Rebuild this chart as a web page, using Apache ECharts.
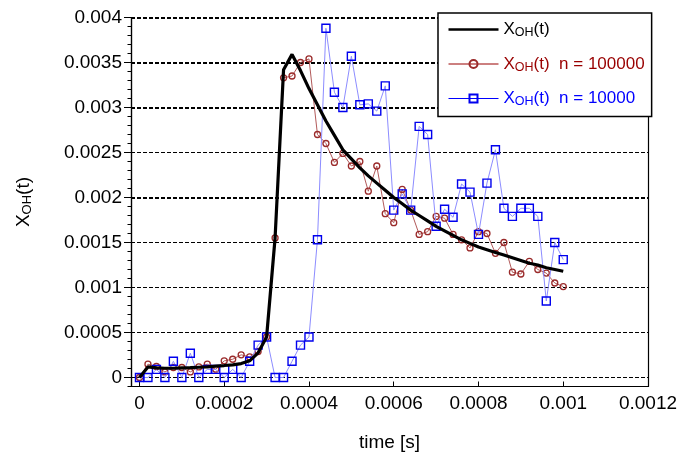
<!DOCTYPE html>
<html>
<head>
<meta charset="utf-8">
<script src="https://cdn.jsdelivr.net/npm/echarts@6/dist/echarts.min.js"></script>
<style>
  html, body { margin: 0; padding: 0; background: #fff; }
  #chart { width: 680px; height: 454px; }
</style>
</head>
<body>
<div id="chart"></div>
<script>
// Sampling times [s]
const times = [
  0, 0.00002, 0.00004, 0.00006, 0.00008, 0.0001, 0.00012, 0.00014, 0.00016, 0.00018,
  0.0002, 0.00022, 0.00024, 0.00026, 0.00028, 0.0003, 0.00032, 0.00034, 0.00036, 0.00038,
  0.0004, 0.00042, 0.00044, 0.00046, 0.00048, 0.0005, 0.00052, 0.00054, 0.00056, 0.00058,
  0.0006, 0.00062, 0.00064, 0.00066, 0.00068, 0.0007, 0.00072, 0.00074, 0.00076, 0.00078,
  0.0008, 0.00082, 0.00084, 0.00086, 0.00088, 0.0009, 0.00092, 0.00094, 0.00096, 0.00098,
  0.001
];

// Reference solution X_OH(t)
const exactValues = [
  0, 0.000118, 0.000107, 0.000103, 0.000103, 0.000107, 0.00011, 0.000114, 0.000118, 0.000126,
  0.000133, 0.000141, 0.000155, 0.000185, 0.000274, 0.00045, 0.00155, 0.00342, 0.00359, 0.00341,
  0.00321, 0.00303, 0.00285, 0.00269, 0.00253, 0.00243, 0.00233, 0.00224, 0.00216, 0.00208,
  0.002, 0.00193, 0.00186, 0.0018, 0.00174, 0.00168, 0.00163, 0.00158, 0.00153, 0.00149,
  0.00145, 0.00142, 0.00139, 0.00136, 0.00133, 0.0013, 0.00127, 0.00125, 0.00122, 0.0012,
  0.00118
];

// Stochastic estimate, n = 100000
const n100000Values = [
  0, 0.000148, 0.000122, 0.000062, 0.000111, 0.000111, 0.000062, 0.000118, 0.000148, 0.000092,
  0.000185, 0.000203, 0.000252, 0.000229, 0.000289, 0.00045, 0.00155, 0.00333, 0.00335, 0.0035,
  0.00354, 0.0027, 0.0026, 0.00239, 0.00249, 0.00235, 0.0024, 0.00207, 0.00235, 0.00182,
  0.00172, 0.00209, 0.00186, 0.00159, 0.00162, 0.00179, 0.00177, 0.00159, 0.00153, 0.00144,
  0.00162, 0.0016, 0.00138, 0.0015, 0.00117, 0.00115, 0.00129, 0.0012, 0.00116, 0.00105,
  0.00101
];

// Stochastic estimate, n = 10000
const n10000Values = [
  0, 0, 0.00009, 0, 0.00018, 0, 0.00027, 0, 0.00009, 0.00009,
  0, 0.00009, 0, 0.00018, 0.00036, 0.00045, 0, 0, 0.00018, 0.00036,
  0.00045, 0.00153, 0.00388, 0.00317, 0.003, 0.00357, 0.00303, 0.00304, 0.00296, 0.00324,
  0.00186, 0.00204, 0.00186, 0.00279, 0.0027, 0.00168, 0.00187, 0.00178, 0.00215, 0.00206,
  0.00159, 0.00216, 0.00253, 0.00188, 0.00179, 0.00188, 0.00188, 0.00179, 0.00085, 0.0015,
  0.00131
];

const seriesNames = ['XOH(t)', 'XOH(t)  n = 100000', 'XOH(t)  n = 10000'];

// Dashed reference lines: colour per split line, bottom to top
// (-0.0001 edge, 0, 0.0005, 0.001, 0.0015, 0.002, 0.0025, 0.003, 0.0035, 0.004)
const heavyLineColors = [
  'rgba(0,0,0,0)', 'rgba(0,0,0,0)', 'rgba(0,0,0,0)', 'rgba(0,0,0,0)', 'rgba(0,0,0,0)',
  '#000', 'rgba(0,0,0,0)', '#000', '#000', '#000'
];

const FONT = '"Liberation Sans", Arial, sans-serif';
const pair = (vals) => times.map((t, i) => [t, vals[i]]);
const fmt = (v) => String(parseFloat(v.toFixed(6)));

const legendRich = {
  k: { color: '#000', fontSize: 17, fontFamily: FONT },
  ks: { color: '#000', fontSize: 12.5, fontFamily: FONT, padding: [7, 0, 0, 0] },
  r: { color: '#990000', fontSize: 17, fontFamily: FONT },
  rs: { color: '#990000', fontSize: 12.5, fontFamily: FONT, padding: [7, 0, 0, 0] },
  b: { color: '#0000ff', fontSize: 17, fontFamily: FONT },
  bs: { color: '#0000ff', fontSize: 12.5, fontFamily: FONT, padding: [7, 0, 0, 0] }
};

const chart = echarts.init(document.getElementById('chart'), null, { renderer: 'canvas' });

const yRange = { min: -0.0001, max: 0.004 };

chart.setOption({
  animation: false,
  backgroundColor: '#fff',
  textStyle: { fontFamily: FONT },
  grid: {
    left: 131, right: 32, top: 17.5, bottom: 67.5,
    containLabel: false, outerBoundsMode: 'none'
  },
  legend: {
    orient: 'vertical',
    left: 438,
    top: 13,
    data: [
      // a flat bar sitting on the thick line, so only the line shows
      { name: seriesNames[0], icon: 'path://M0,0H20V1H0Z' },
      { name: seriesNames[1], lineStyle: { color: '#990000', width: 1 } },
      { name: seriesNames[2], lineStyle: { color: '#0000ff', width: 1 } }
    ],
    itemWidth: 50,
    itemHeight: 10,
    itemGap: 16,
    padding: [8, 7, 8, 10],
    backgroundColor: '#fff',
    borderColor: '#000',
    borderWidth: 1.5,
    borderRadius: 0,
    selectedMode: false,
    z: 10,
    formatter: function (name) {
      const i = seriesNames.indexOf(name);
      const p = ['k', 'r', 'b'][i];
      const rest = name.slice(6);
      return '{' + p + '|X}{' + p + 's|OH}{' + p + '|(t)' + rest + '}';
    },
    textStyle: { rich: legendRich }
  },
  xAxis: {
    type: 'value',
    min: -0.00002,
    max: 0.0012,
    minInterval: 0.0002,
    maxInterval: 0.0002,
    splitNumber: 6,
    name: 'time [s]',
    nameLocation: 'middle',
    nameGap: 47,
    nameTextStyle: { color: '#000', fontSize: 19, fontFamily: FONT },
    axisLine: { onZero: false, lineStyle: { color: '#000', width: 1.2 } },
    axisTick: { inside: true, length: 5, lineStyle: { color: '#000', width: 1 } },
    axisLabel: {
      color: '#000', fontSize: 19, fontFamily: FONT, margin: 8,
      showMinLabel: false, formatter: fmt
    },
    splitLine: { show: false }
  },
  yAxis: [
    {
      // minor ticks every 0.0001
      type: 'value',
      position: 'left',
      min: yRange.min,
      max: yRange.max,
      interval: 0.0001,
      axisLine: { onZero: false, lineStyle: { color: '#000', width: 1.2 } },
      axisTick: { inside: false, length: 3.5, lineStyle: { color: '#000', width: 1 } },
      axisLabel: { show: false },
      splitLine: { show: false }
    },
    {
      // major ticks, labels and thin dashed lines every 0.0005
      type: 'value',
      position: 'left',
      min: yRange.min,
      max: yRange.max,
      minInterval: 0.0005,
      maxInterval: 0.0005,
      splitNumber: 8,
      name: '{m|X}{s|OH}{m|(t)}',
      nameLocation: 'middle',
      nameRotate: 90,
      nameGap: 97,
      nameTextStyle: {
        rich: {
          m: { color: '#000', fontSize: 19, fontFamily: FONT },
          s: { color: '#000', fontSize: 13, fontFamily: FONT, padding: [7, 0, 0, 0] }
        }
      },
      axisLine: { onZero: false, lineStyle: { color: '#000', width: 1.2 } },
      axisTick: { inside: false, length: 7, lineStyle: { color: '#000', width: 1 } },
      axisLabel: {
        color: '#000', fontSize: 19, fontFamily: FONT, margin: 9,
        showMinLabel: false, formatter: fmt
      },
      splitLine: { show: true, lineStyle: { color: '#000', type: [4, 2], width: 1 } }
    },
    {
      // right-hand frame edge, carrying the heavier dashed lines
      type: 'value',
      position: 'right',
      min: yRange.min,
      max: yRange.max,
      minInterval: 0.0005,
      maxInterval: 0.0005,
      splitNumber: 8,
      axisLine: { show: true, onZero: false, lineStyle: { color: '#000', width: 1.2 } },
      axisTick: { show: false },
      axisLabel: { show: false },
      splitLine: { show: true, lineStyle: { color: heavyLineColors, type: [4, 2], width: 2 } }
    }
  ],
  series: [
    {
      type: 'line',
      name: seriesNames[1],
      data: pair(n100000Values),
      symbol: 'circle',
      symbolSize: 6,
      showAllSymbol: true,
      lineStyle: { color: '#b25a5a', width: 1 },
      itemStyle: { color: 'rgba(255,255,255,0)', borderColor: '#9a2a2a', borderWidth: 1.3 },
      emphasis: { disabled: true },
      z: 3
    },
    {
      type: 'line',
      name: seriesNames[2],
      data: pair(n10000Values),
      symbol: 'rect',
      symbolSize: 8,
      showAllSymbol: true,
      lineStyle: { color: '#8c8cff', width: 1 },
      itemStyle: { color: 'rgba(255,255,255,0)', borderColor: '#0000ee', borderWidth: 1.4 },
      emphasis: { disabled: true },
      z: 4
    },
    {
      type: 'line',
      name: seriesNames[0],
      data: pair(exactValues),
      symbol: 'none',
      lineStyle: { color: '#000', width: 3.2 },
      itemStyle: { color: '#000' },
      emphasis: { disabled: true },
      z: 5
    }
  ]
});
</script>
</body>
</html>
